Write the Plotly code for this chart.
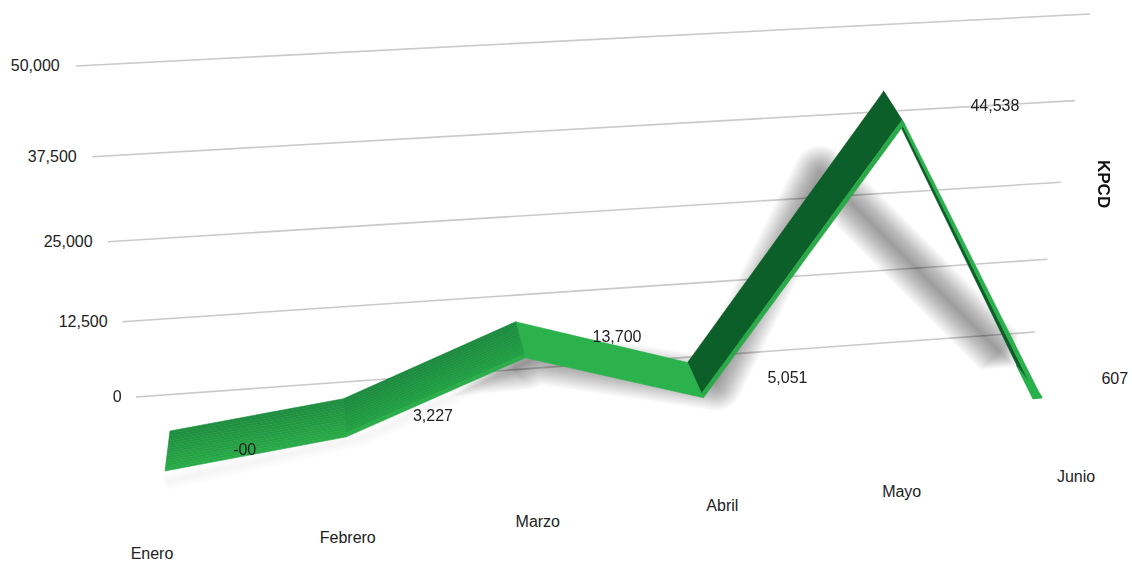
import numpy as np
import plotly.graph_objects as go

months = ["Enero", "Febrero", "Marzo", "Abril", "Mayo", "Junio"]
values = [0, 3227, 13700, 5051, 44538, 607]
value_labels = ["-00", "3,227", "13,700", "5,051", "44,538", "607"]
grid_values = [0, 12500, 25000, 37500, 50000]
grid_labels = ["0", "12,500", "25,000", "37,500", "50,000"]

W, H = 1132, 566
VMAX = 50000
N = len(months) - 1
LABEL_SHIFT = [.43, .49, .53, .52, .53, .50]

# Calibration of the pseudo-3D view: plane corners (i=0,v=0), (i=N,v=0), (i=N,v=max), (i=0,v=max)
FRONT = [(165, 471), (1041, 401), (1096, 73), (113, 131)]
BACK = [(170, 431), (1016, 368), (1071, 41), (120, 96)]
SHADOW = [(165, 482), (1018, 372), (955, 138), (110, 187)]
# Wall: u from left end to right end of the grid lines
WALL = [(136, 397), (1035, 332), (1090, 14), (76, 66)]
# Floor plane holding the month labels
FLOOR = [(152, 555), (1076, 478), (1076, 385), (152, 455)]


def homography(q):
    (x0, y0), (x1, y1), (x2, y2), (x3, y3) = q
    dx1, dx2, sx = x1 - x2, x3 - x2, x0 - x1 + x2 - x3
    dy1, dy2, sy = y1 - y2, y3 - y2, y0 - y1 + y2 - y3
    den = dx1 * dy2 - dx2 * dy1
    g = (sx * dy2 - dx2 * sy) / den
    h = (dx1 * sy - sx * dy1) / den
    return np.array([[x1 - x0 + g * x1, x3 - x0 + h * x3, x0],
                     [y1 - y0 + g * y1, y3 - y0 + h * y3, y0],
                     [g, h, 1.0]])


HF, HB, HS, HW, HL = [homography(q) for q in (FRONT, BACK, SHADOW, WALL, FLOOR)]


def plane(m, u, v):
    p = m @ np.array([u, v / VMAX, 1.0])
    return p[:2] / p[2]


def proj(i, v, d):
    """d=0 back edge of the ribbon, d=1 front edge."""
    b, f = plane(HB, i / N, v), plane(HF, i / N, v)
    return b + d * (f - b)


def ramp(c0, c1, n, d0=0.0, d1=1.0):
    a, b = np.array(c0, float), np.array(c1, float)
    out = []
    for j in range(n):
        t = j / max(n - 1, 1)
        c = a + t * (b - a)
        out.append((d0 + (d1 - d0) * j / n, d0 + (d1 - d0) * (j + 1) / n,
                    "rgb(%d,%d,%d)" % tuple(c)))
    return out


fig = go.Figure()

# Grid lines on the wall
for gv in grid_values:
    a, b = plane(HW, 0, gv), plane(HW, 1, gv)
    fig.add_trace(go.Scatter(x=[a[0], b[0]], y=[a[1], b[1]], mode="lines",
                             line=dict(color="#c9c9c9", width=1.6), hoverinfo="skip"))


def sh(i):
    return plane(HS, i / N, values[i])


# Soft shadow: stacked faint strokes; separate segments plus round markers give round joins
MAXW = 54
for w in range(MAXW, 0, -2):
    f = w / MAXW
    s = 0.5 + 0.4 * f
    e = 0.99 - 0.08 * f
    start = sh(1) * (1 - s) + sh(2) * s
    end = sh(4) * (1 - e) + sh(5) * e
    chain = [start, sh(2), sh(3), sh(4), end]
    xs, ys, sizes = [], [], []
    for a, b in zip(chain[:-1], chain[1:]):
        xs += [a[0], b[0], None]
        ys += [a[1], b[1], None]
        sizes += [w, w, 0]
    sizes[0] = 0
    sizes[-2] = 0
    fig.add_trace(go.Scatter(x=xs, y=ys, mode="lines+markers", opacity=0.017,
                             line=dict(color="#282828", width=w),
                             marker=dict(color="#282828", size=sizes, line=dict(width=0)),
                             connectgaps=False, hoverinfo="skip"))
sp0 = np.array([sh(i) for i in range(3)])
for w in range(18, 0, -2):
    fig.add_trace(go.Scatter(x=sp0[:, 0], y=sp0[:, 1], mode="lines",
                             line=dict(color="rgba(40,40,40,0.009)", width=w), hoverinfo="skip"))

# Ribbon: (depth start, depth end, colour) bands per segment
bands = {
    0: ramp((31, 142, 64), (41, 170, 72), 16),
    1: ramp((28, 138, 62), (33, 160, 68), 14, 0, .9) + [(.9, 1, "#2aad4a")],
    2: [(0, 1, "#2bb24c")],
    3: [(0, .88, "#0d5f29"), (.88, 1, "#2aaa49")],
    4: [(-.02, .45, "#0d5c28"), (.45, 1.0, "#2ab04a")],
}
# Blunt tip where the ribbon reaches its last point
tip = [proj(N, values[N], 0), proj(N - 0.05, values[N], 1), proj(N, values[N], 1), proj(N, values[N], 0)]
fig.add_trace(go.Scatter(x=[p[0] for p in tip], y=[p[1] for p in tip], mode="lines", fill="toself",
                         fillcolor="#2ab04a", line=dict(color="#2ab04a", width=2), hoverinfo="skip"))
for k in [4, 3, 2, 1, 0]:
    for d0, d1, col in bands[k]:
        pts = [proj(k, values[k], d0), proj(k + 1, values[k + 1], d0),
               proj(k + 1, values[k + 1], d1), proj(k, values[k], d1)]
        pts.append(pts[0])
        fig.add_trace(go.Scatter(x=[p[0] for p in pts], y=[p[1] for p in pts], mode="lines",
                                 fill="toself", fillcolor=col, line=dict(color=col, width=0.6),
                                 hoverinfo="skip"))

font = dict(family="Liberation Sans, Arial, sans-serif", size=16, color="#222222")

# Tick labels
tp = np.array([plane(HW, -0.015, gv) for gv in grid_values])
fig.add_trace(go.Scatter(x=tp[:, 0], y=tp[:, 1], mode="text", text=grid_labels, cliponaxis=False,
                         textposition="middle left", textfont=font, hoverinfo="skip"))
# Category labels on the floor
cp = np.array([plane(HL, i / N, 0) for i in range(len(months))])
fig.add_trace(go.Scatter(x=cp[:, 0], y=cp[:, 1], mode="text", text=months, cliponaxis=False,
                         textposition="middle center", textfont=font, hoverinfo="skip"))
# Value labels
lp = np.array([proj(i + LABEL_SHIFT[i], v, 0.65) for i, v in enumerate(values)])
fig.add_trace(go.Scatter(x=lp[:, 0], y=lp[:, 1], mode="text", text=value_labels, cliponaxis=False,
                         textposition="middle center", textfont=font, hoverinfo="skip"))

fig.add_annotation(x=1104, y=184, xref="x", yref="y", text="<b>KPCD</b>", showarrow=False,
                   textangle=90, font=dict(family="Liberation Sans, Arial, sans-serif", size=17, color="#111111"))

fig.update_layout(width=W, height=H,
                  margin=dict(l=0, r=0, t=0, b=0), showlegend=False,
                  plot_bgcolor="white", paper_bgcolor="white",
                  xaxis=dict(range=[0, W], visible=False, fixedrange=True),
                  yaxis=dict(range=[H, 0], visible=False, fixedrange=True))
fig.write_html("out.html", post_script="document.body.style.margin='0';",
               config={"displayModeBar": False})
